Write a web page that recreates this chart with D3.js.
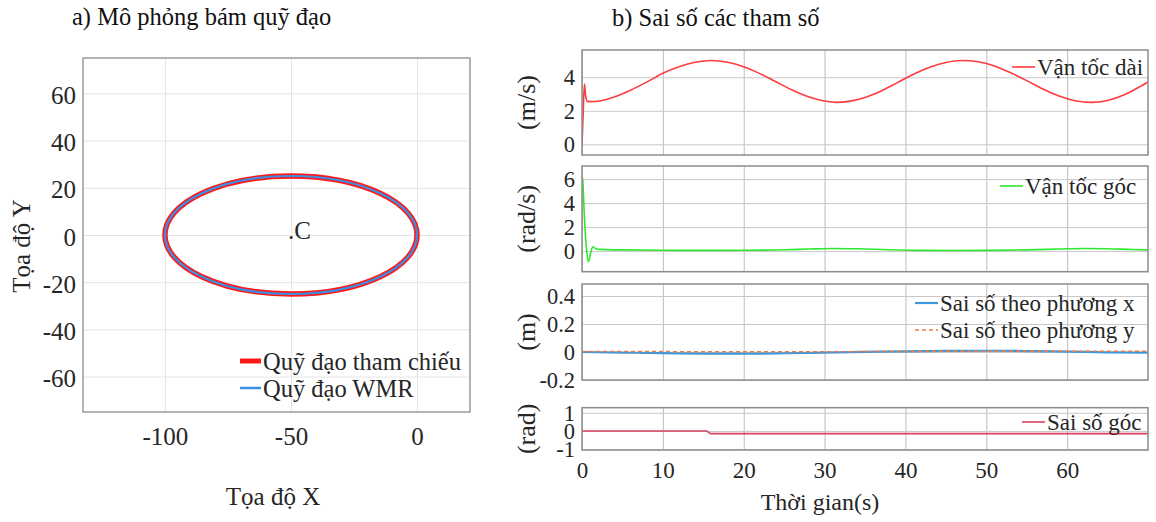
<!DOCTYPE html>
<html>
<head>
<meta charset="utf-8">
<script src="https://cdn.jsdelivr.net/npm/d3@7"></script>
<style>
  html, body { margin: 0; padding: 0; background: #fff; }
  svg { display: block; }
  text { font-family: "Liberation Serif", "Times New Roman", serif; }
</style>
</head>
<body>
<svg id="fig" width="1156" height="522"></svg>
<script>
// ---------- (a) trajectory tracking ----------
const refCenter = [-50, 0];          // reference ellipse centre (X, Y)
const refSemiAxes = [50, 25];        // reference ellipse semi-axes (X, Y)
const wmrCenter = [-50, 0];          // robot trajectory centre
const wmrSemiAxes = [50, 25];        // robot trajectory semi-axes
const xTicksA = [-100, -50, 0];
const yTicksA = [-60, -40, -20, 0, 20, 40, 60];
const legendA = ["Quỹ đạo tham chiếu", "Quỹ đạo WMR"];

// ---------- (b) parameter errors ----------
const timeTicks = [0, 10, 20, 30, 40, 50, 60];

// linear velocity (m/s)
const tSpeed = [0, 0.15, 0.3, 0.45, 0.65, 1, 2, 4, 6, 8, 10, 12, 14, 16, 18, 20, 22, 24, 26, 28, 30,
  31.5, 33, 35, 37, 39, 41, 43, 45, 47, 49, 51, 53, 55, 57, 59, 61, 63, 65, 67, 69, 70];
const speed = [0, 1.9, 3.6, 2.9, 2.56, 2.55, 2.57, 2.83, 3.23, 3.71, 4.24, 4.63, 4.9, 5.0, 4.9, 4.63, 4.22, 3.73, 3.24, 2.84, 2.58,
  2.5, 2.56, 2.79, 3.18, 3.68, 4.18, 4.6, 4.88, 5.0, 4.93, 4.68, 4.27, 3.8, 3.3, 2.88, 2.6, 2.5, 2.62, 2.94, 3.44, 3.72];
const speedTicks = [0, 2, 4];

// angular velocity (rad/s)
const tOmega = [0, 0.08, 0.3, 0.55, 0.8, 1.05, 1.35, 1.7, 2.2, 3, 5, 10, 15, 20, 25, 28, 31, 34, 38, 42, 46, 50, 55, 59, 62, 65, 68, 70];
const omega = [6.2, 6.0, 2.8, 0.2, -0.88, -0.2, 0.36, 0.2, 0.14, 0.12, 0.1, 0.07, 0.06, 0.07, 0.11, 0.17, 0.22, 0.19, 0.11, 0.06, 0.05, 0.06, 0.1, 0.17, 0.22, 0.2, 0.13, 0.1];
const omegaTicks = [0, 2, 4, 6];

// position errors (m)
const tErr = [0, 5, 10, 15, 20, 25, 30, 35, 40, 45, 50, 55, 60, 65, 70];
const errX = [0, -0.004, -0.008, -0.011, -0.012, -0.009, -0.004, 0.001, 0.005, 0.008, 0.009, 0.007, 0.003, -0.002, -0.005];
const errY = [0.004, 0.004, 0.003, 0.002, 0.001, 0.001, 0.002, 0.003, 0.004, 0.005, 0.005, 0.005, 0.005, 0.005, 0.005];
const errTicks = [-0.2, 0, 0.2, 0.4];

// heading error (rad)
const tAngle = [0, 15.4, 15.9, 70];
const errAngle = [0, 0, -0.15, -0.15];
const angleTicks = [-1, 0, 1];

const legendB = ["Vận tốc dài", "Vận tốc góc", "Sai số theo phương x", "Sai số theo phương y", "Sai số góc"];

// ---------- drawing ----------
const svg = d3.select("#fig");
const INK = "#262626";
const fmt = d => String(d);
const zip = (a, b) => a.map((v, i) => [v, b[i]]);

svg.append("text").attr("x", 72).attr("y", 25).attr("font-size", 24.5).attr("fill", "#111")
  .text("a) Mô phỏng bám quỹ đạo");
svg.append("text").attr("x", 612).attr("y", 26).attr("font-size", 24.5).attr("fill", "#111")
  .text("b) Sai số các tham số");

// ----- panel (a) -----
const A = { x0: 83, x1: 470, y0: 58, y1: 412 };
const xA = d3.scaleLinear().domain([-132.5, 21]).range([A.x0, A.x1]);
const yA = d3.scaleLinear().domain([-75, 75]).range([A.y1, A.y0]);

const gA = svg.append("g");
gA.append("rect").attr("x", A.x0).attr("y", A.y0).attr("width", A.x1 - A.x0).attr("height", A.y1 - A.y0)
  .attr("fill", "#fff");
gA.append("g").attr("transform", `translate(0,${A.y1})`)
  .call(d3.axisBottom(xA).tickValues(xTicksA).tickSize(-(A.y1 - A.y0)).tickFormat(""))
  .call(g => { g.select(".domain").remove(); g.selectAll("line").attr("stroke", "#e4e4e4").attr("stroke-width", 1); });
gA.append("g").attr("transform", `translate(${A.x0},0)`)
  .call(d3.axisLeft(yA).tickValues(yTicksA).tickSize(-(A.x1 - A.x0)).tickFormat(""))
  .call(g => { g.select(".domain").remove(); g.selectAll("line").attr("stroke", "#e4e4e4").attr("stroke-width", 1); });

// tick labels
gA.append("g").attr("transform", `translate(0,${A.y1})`)
  .call(d3.axisBottom(xA).tickValues(xTicksA).tickSize(0).tickFormat(fmt))
  .call(g => {
    g.select(".domain").remove();
    g.selectAll("text").attr("y", 33).attr("dy", null).attr("font-size", 25)
      .attr("font-family", "Liberation Serif, serif").attr("fill", INK);
  });
gA.append("g").attr("transform", `translate(${A.x0},0)`)
  .call(d3.axisLeft(yA).tickValues(yTicksA).tickSize(0).tickFormat(fmt))
  .call(g => {
    g.select(".domain").remove();
    g.selectAll("text").attr("x", -7).attr("y", 10).attr("dy", null).attr("font-size", 25)
      .attr("font-family", "Liberation Serif, serif").attr("fill", INK);
  });

// trajectories
gA.append("ellipse")
  .attr("cx", xA(refCenter[0])).attr("cy", yA(refCenter[1]))
  .attr("rx", xA(refCenter[0] + refSemiAxes[0]) - xA(refCenter[0]))
  .attr("ry", yA(refCenter[1]) - yA(refCenter[1] + refSemiAxes[1]))
  .attr("fill", "none").attr("stroke", "#ff1a1a").attr("stroke-width", 5.5);
gA.append("ellipse")
  .attr("cx", xA(wmrCenter[0])).attr("cy", yA(wmrCenter[1]))
  .attr("rx", xA(wmrCenter[0] + wmrSemiAxes[0]) - xA(wmrCenter[0]))
  .attr("ry", yA(wmrCenter[1]) - yA(wmrCenter[1] + wmrSemiAxes[1]))
  .attr("fill", "none").attr("stroke", "#3a8fe4").attr("stroke-width", 2.2);

gA.append("text").attr("x", xA(refCenter[0]) - 3).attr("y", yA(refCenter[1]) + 4)
  .attr("font-size", 25).attr("fill", INK).text(".C");

// box
gA.append("rect").attr("x", A.x0).attr("y", A.y0).attr("width", A.x1 - A.x0).attr("height", A.y1 - A.y0)
  .attr("fill", "none").attr("stroke", "#9a9a9a").attr("stroke-width", 1.5);

// legend
const legA = gA.append("g");
[["#ff1a1a", 5, 361], ["#3a8fe4", 2.5, 388]].forEach((s, i) => {
  legA.append("line").attr("x1", 240).attr("x2", 261).attr("y1", s[2]).attr("y2", s[2])
    .attr("stroke", s[0]).attr("stroke-width", s[1]);
  legA.append("text").attr("x", 263).attr("y", s[2] + 8.5).attr("font-size", 24.5).attr("fill", INK)
    .text(legendA[i]);
});

// axis titles
svg.append("text").attr("x", 273).attr("y", 505).attr("text-anchor", "middle").attr("font-size", 25)
  .attr("fill", INK).text("Tọa độ X");
svg.append("text").attr("transform", "translate(30,246) rotate(-90)").attr("text-anchor", "middle")
  .attr("font-size", 25).attr("fill", INK).text("Tọa độ Y");

// ----- panel (b) -----
const XB = [582, 1148];
const xB = d3.scaleLinear().domain([0, 70]).range(XB);

const subplots = [
  { y0: 50, y1: 155, dom: [-0.64, 5.63], ticks: speedTicks, label: "(m/s)",
    series: [{ data: zip(tSpeed, speed), color: "#ff3b3b", w: 1.6, curve: d3.curveMonotoneX }],
    legend: [{ x: 1012, y: 67, text: legendB[0], color: "#ff3b3b" }] },
  { y0: 166, y1: 271.7, dom: [-1.72, 7.1], ticks: omegaTicks, label: "(rad/s)",
    series: [{ data: zip(tOmega, omega), color: "#2ee82e", w: 1.6, curve: d3.curveMonotoneX }],
    legend: [{ x: 1000, y: 186, text: legendB[1], color: "#2ee82e" }] },
  { y0: 284, y1: 380, dom: [-0.2, 0.486], ticks: errTicks, label: "(m)",
    series: [{ data: zip(tErr, errX), color: "#3d98dd", w: 2.2, curve: d3.curveMonotoneX },
             { data: zip(tErr, errY), color: "#ee7a44", w: 1.5, dash: "4,3", curve: d3.curveMonotoneX }],
    legend: [{ x: 915, y: 303, text: legendB[2], color: "#3d98dd", w: 2.2 },
             { x: 915, y: 330, text: legendB[3], color: "#ee7a44", dash: "4,3" }] },
  { y0: 407.7, y1: 450, dom: [-1.05, 1.28], ticks: angleTicks, label: "(rad)",
    series: [{ data: zip(tAngle, errAngle), color: "#d8405e", w: 1.6, curve: d3.curveLinear }],
    legend: [{ x: 1022, y: 422, text: legendB[4], color: "#d8405e" }] }
];

subplots.forEach((sp, k) => {
  const g = svg.append("g");
  const y = d3.scaleLinear().domain(sp.dom).range([sp.y1, sp.y0]);
  const h = sp.y1 - sp.y0, w = XB[1] - XB[0];

  g.append("rect").attr("x", XB[0]).attr("y", sp.y0).attr("width", w).attr("height", h).attr("fill", "#fff");
  // grid
  g.append("g").attr("transform", `translate(0,${sp.y1})`)
    .call(d3.axisBottom(xB).tickValues(timeTicks).tickSize(-h).tickFormat(""))
    .call(a => { a.select(".domain").remove(); a.selectAll("line").attr("stroke", "#bdbdbd").attr("stroke-width", 1); });
  g.append("g").attr("transform", `translate(${XB[0]},0)`)
    .call(d3.axisLeft(y).tickValues(sp.ticks).tickSize(-w).tickFormat(""))
    .call(a => { a.select(".domain").remove(); a.selectAll("line").attr("stroke", "#c8c8c8").attr("stroke-width", 1); });

  // y tick labels
  g.append("g").attr("transform", `translate(${XB[0]},0)`)
    .call(d3.axisLeft(y).tickValues(sp.ticks).tickSize(0).tickFormat(fmt))
    .call(a => {
      a.select(".domain").remove();
      a.selectAll("text").attr("x", -7).attr("y", 7.5).attr("dy", null).attr("font-size", 22.5)
        .attr("font-family", "Liberation Serif, serif").attr("fill", INK);
    });

  // series
  const clipId = "clip" + k;
  g.append("clipPath").attr("id", clipId).append("rect")
    .attr("x", XB[0]).attr("y", sp.y0).attr("width", w).attr("height", h);
  const plot = g.append("g").attr("clip-path", `url(#${clipId})`);
  sp.series.forEach(s => {
    const line = d3.line().x(d => xB(d[0])).y(d => y(d[1])).curve(s.curve);
    plot.append("path").attr("d", line(s.data)).attr("fill", "none")
      .attr("stroke", s.color).attr("stroke-width", s.w)
      .attr("stroke-dasharray", s.dash || null);
  });

  // box
  g.append("rect").attr("x", XB[0]).attr("y", sp.y0).attr("width", w).attr("height", h)
    .attr("fill", "none").attr("stroke", "#8c8c8c").attr("stroke-width", 1.5);

  // legend
  sp.legend.forEach(l => {
    g.append("line").attr("x1", l.x).attr("x2", l.x + 23).attr("y1", l.y).attr("y2", l.y)
      .attr("stroke", l.color).attr("stroke-width", l.w || 1.6).attr("stroke-dasharray", l.dash || null);
    g.append("text").attr("x", l.x + 25).attr("y", l.y + 8).attr("font-size", 23).attr("fill", INK).text(l.text);
  });

  // y label
  g.append("text").attr("transform", `translate(535,${(sp.y0 + sp.y1) / 2}) rotate(-90)`)
    .attr("text-anchor", "middle").attr("font-size", 26).attr("fill", INK).text(sp.label);

  // time tick labels on the bottom subplot
  if (k === subplots.length - 1) {
    g.append("g").attr("transform", `translate(0,${sp.y1})`)
      .call(d3.axisBottom(xB).tickValues(timeTicks).tickSize(0).tickFormat(fmt))
      .call(a => {
        a.select(".domain").remove();
        a.selectAll("text").attr("y", 27.5).attr("dy", null).attr("font-size", 23)
          .attr("font-family", "Liberation Serif, serif").attr("fill", INK);
      });
  }
});

svg.append("text").attr("x", 820).attr("y", 510).attr("text-anchor", "middle").attr("font-size", 24)
  .attr("fill", INK).text("Thời gian(s)");
</script>
</body>
</html>
